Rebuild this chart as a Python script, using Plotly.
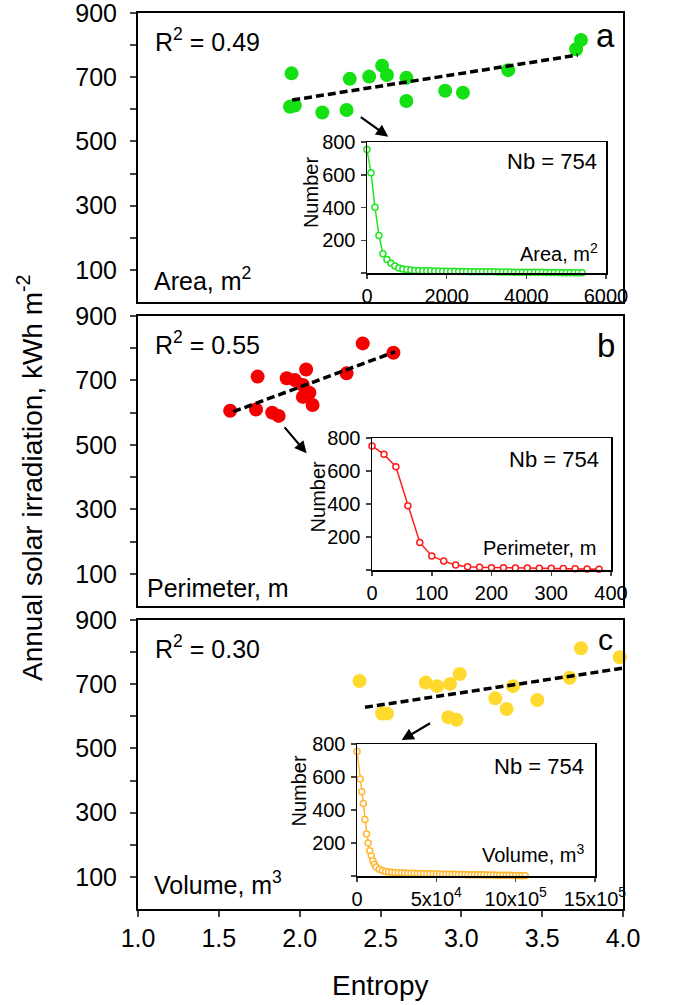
import plotly.graph_objects as go

# ---------------- main scatter data (Entropy vs annual solar irradiation) ----------------
area_entropy = [1.95, 1.94, 1.97, 2.14, 2.29, 2.31, 2.43, 2.51, 2.54, 2.66, 2.66, 2.90, 3.01, 3.29, 3.71, 3.74]
area_irr     = [712, 608, 612, 590, 598, 695, 702, 736, 707, 698, 626, 658, 652, 722, 787, 816]
area_trend_x = [1.954, 3.72]
area_trend_y = [629, 769]

perim_entropy = [1.57, 1.74, 1.73, 1.83, 1.87, 1.92, 1.97, 2.04, 2.02, 2.06, 2.02, 2.08, 2.29, 2.39, 2.58]
perim_irr     = [606, 712, 610, 600, 590, 707, 701, 734, 686, 662, 649, 624, 722, 815, 786]
perim_trend_x = [1.589, 2.59]
perim_trend_y = [603, 789]

vol_entropy = [2.37, 2.51, 2.54, 2.78, 2.85, 2.93, 2.99, 2.92, 2.97, 3.21, 3.32, 3.28, 3.47, 3.67, 3.74, 3.98]
vol_irr     = [710, 609, 609, 705, 694, 701, 732, 597, 589, 656, 694, 623, 651, 720, 812, 784]
vol_trend_x = [2.404, 4.0]
vol_trend_y = [628, 750]

# ---------------- inset data (cumulative number of buildings) ----------------
inset_area_x = [0, 100, 200, 300, 400, 500, 600, 700, 800, 900, 1000, 1100, 1200, 1300, 1400,
                1500, 1600, 1700, 1800, 1900, 2000, 2100, 2200, 2300, 2400, 2500, 2600, 2700,
                2800, 2900, 3000, 3100, 3200, 3300, 3400, 3500, 3600, 3700, 3800, 3900, 4000,
                4100, 4200, 4300, 4400, 4500, 4600, 4700, 4800, 4900, 5000, 5100, 5200, 5300, 5400]
inset_area_n = [754, 612, 402, 229, 118, 82, 60, 42, 31, 25, 21, 18, 16, 15, 14,
                14, 13, 12, 12, 11, 11, 10, 10, 9, 9, 9, 8, 8,
                8, 7, 7, 7, 7, 6, 6, 6, 6, 5, 5, 5, 5,
                4, 4, 4, 4, 3, 3, 3, 3, 2, 2, 2, 2, 1, 1]

inset_perim_x = [0, 20, 40, 60, 80, 100, 120, 140, 160, 180, 200, 220, 240, 260, 280, 300, 320, 340, 360, 380]
inset_perim_n = [752, 701, 625, 389, 167, 85, 54, 30, 20, 16, 14, 13, 12, 12, 11, 10, 9, 8, 6, 4]

inset_vol_x = [0, 0.2, 0.3, 0.4, 0.5, 0.6, 0.7, 0.8, 0.9, 1.0, 1.1, 1.2, 1.4, 1.6, 1.8,
               2.0, 2.2, 2.4, 2.6, 2.8, 3.0, 3.2, 3.4, 3.6, 3.8, 4.0, 4.2, 4.4, 4.6, 4.8,
               5.0, 5.2, 5.4, 5.6, 5.8, 6.0, 6.2, 6.4, 6.6, 6.8, 7.0, 7.2, 7.4, 7.6, 7.8,
               8.0, 8.2, 8.4, 8.6, 8.8, 9.0, 9.2, 9.4, 9.6, 9.8, 10.0, 10.2, 10.4, 10.6]
inset_vol_n = [754, 588, 510, 439, 343, 255, 200, 153, 122, 92, 71, 55, 41, 33, 27,
               24, 22, 21, 20, 19, 18, 17, 16, 16, 15, 15, 14, 14, 13, 13,
               12, 12, 11, 11, 10, 10, 10, 9, 9, 9, 8, 8, 8, 7, 7,
               7, 6, 6, 6, 5, 5, 4, 4, 4, 3, 3, 2, 2, 1]

r2_labels = ["R<sup>2</sup> = 0.49", "R<sup>2</sup> = 0.55", "R<sup>2</sup> = 0.30"]
panel_letters = ["a", "b", "c"]
var_labels = ["Area, m<sup>2</sup>", "Perimeter, m", "Volume, m<sup>3</sup>"]
main_yticks = [100, 200, 300, 400, 500, 600, 700, 800, 900]
main_yticktext = ["100", "", "300", "", "500", "", "700", "", "900"]
entropy_ticks = [1.0, 1.5, 2.0, 2.5, 3.0, 3.5, 4.0]
entropy_ticktext = ["1.0", "1.5", "2.0", "2.5", "3.0", "3.5", "4.0"]
inset_yticks = [0, 200, 400, 600, 800]
inset_yticktext = ["", "200", "400", "600", "800"]
area_xticks = [0, 2000, 4000, 6000]
perim_xticks = [0, 100, 200, 300, 400]
vol_xticks = [0, 5, 10, 15]
vol_xticktext = ["0", "5x10<sup>4</sup>", "10x10<sup>5</sup>", "15x10<sup>5</sup>"]

GREEN = "#14E014"
RED = "#F40000"
YELLOW = "#FFD92E"
ORANGE = "#FFB732"
FONT = "Liberation Sans, Arial, sans-serif"

W, H = 674, 1005
def px(x):
    return x / W
def py(y):
    return 1 - y / H

main_x_dom = [px(138), px(623)]
main_y_doms = [[py(302), py(13)], [py(606), py(316)], [py(909), py(620)]]
inset_x_doms = [[px(367), px(606)], [px(372), px(611)], [px(357), px(595)]]
inset_y_doms = [[py(273), py(142)], [py(570), py(438)], [py(876), py(744)]]

fig = go.Figure()

main_sets = [
    (area_entropy, area_irr, area_trend_x, area_trend_y, GREEN),
    (perim_entropy, perim_irr, perim_trend_x, perim_trend_y, RED),
    (vol_entropy, vol_irr, vol_trend_x, vol_trend_y, YELLOW),
]
for i, (ex, ey, tx, ty, col) in enumerate(main_sets):
    xa = "x" if i == 0 else f"x{i+1}"
    ya = "y" if i == 0 else f"y{i+1}"
    fig.add_trace(go.Scatter(x=ex, y=ey, mode="markers", xaxis=xa, yaxis=ya,
                             marker=dict(size=14, color=col, line=dict(width=0)),
                             cliponaxis=False, showlegend=False))
    fig.add_trace(go.Scatter(x=tx, y=ty, mode="lines", xaxis=xa, yaxis=ya,
                             line=dict(color="black", width=3.5, dash="8px,4px"),
                             showlegend=False))

inset_sets = [
    (inset_area_x, inset_area_n, "#22E622"),
    (inset_perim_x, inset_perim_n, "#FF1A1A"),
    (inset_vol_x, inset_vol_n, ORANGE),
]
for j, (ix, iy, col) in enumerate(inset_sets):
    fig.add_trace(go.Scatter(x=ix, y=iy, mode="lines+markers",
                             xaxis=f"x{j+4}", yaxis=f"y{j+4}",
                             line=dict(color=col, width=1.5),
                             marker=dict(symbol="circle", size=6, color="white",
                                         line=dict(color=col, width=1.5)),
                             cliponaxis=False, showlegend=False))

layout = dict(template="none", width=W, height=H, autosize=False,
              margin=dict(l=0, r=0, t=0, b=0, pad=0),
              paper_bgcolor="white", plot_bgcolor="white",
              font=dict(family=FONT, color="black"), showlegend=False)

for i in range(3):
    xk = "xaxis" if i == 0 else f"xaxis{i+1}"
    yk = "yaxis" if i == 0 else f"yaxis{i+1}"
    ya = "y" if i == 0 else f"y{i+1}"
    xa = "x" if i == 0 else f"x{i+1}"
    last = (i == 2)
    layout[xk] = dict(domain=main_x_dom, anchor=ya, range=[1.0, 4.0], automargin=False,
                      showline=True, mirror=True, linewidth=2, linecolor="black",
                      showgrid=False, zeroline=False, ticklabeloverflow="allow",
                      ticks="outside" if last else "", ticklen=6, tickwidth=2,
                      tickvals=entropy_ticks, ticktext=entropy_ticktext,
                      showticklabels=last, tickfont=dict(size=25, family=FONT))
    layout[yk] = dict(domain=main_y_doms[i], anchor=xa, range=[0, 900], automargin=False,
                      showline=True, mirror=True, linewidth=2, linecolor="black",
                      showgrid=False, zeroline=False, ticklabeloverflow="allow",
                      ticks="outside", ticklen=6, tickwidth=2,
                      tickvals=main_yticks, ticktext=main_yticktext,
                      tickfont=dict(size=25, family=FONT), ticklabelstandoff=8)

inset_xranges = [[0, 6000], [0, 400], [0, 15]]
inset_xtv = [area_xticks, perim_xticks, vol_xticks]
inset_xtt = [[str(v) for v in area_xticks], [str(v) for v in perim_xticks], vol_xticktext]
for j in range(3):
    n = j + 4
    layout[f"xaxis{n}"] = dict(domain=inset_x_doms[j], anchor=f"y{n}", range=inset_xranges[j],
                               automargin=False, ticklabeloverflow="allow",
                               showline=True, mirror=True, linewidth=1.5, linecolor="black",
                               showgrid=False, zeroline=False,
                               ticks="outside", ticklen=4, tickwidth=1.5,
                               tickvals=inset_xtv[j], ticktext=inset_xtt[j],
                               tickfont=dict(size=20, family=FONT), ticklabelstandoff=0)
    layout[f"yaxis{n}"] = dict(domain=inset_y_doms[j], anchor=f"x{n}", range=[0, 800],
                               automargin=False, ticklabeloverflow="allow",
                               showline=True, mirror=True, linewidth=1.5, linecolor="black",
                               showgrid=False, zeroline=False,
                               ticks="outside", ticklen=5, tickwidth=1.5,
                               tickvals=inset_yticks, ticktext=inset_yticktext,
                               tickfont=dict(size=20, family=FONT), ticklabelstandoff=1)

fig.update_layout(**layout)

ann = []
r2_y = [816, 816, 816]
letter_pos = [(3.96, 831), (3.96, 810), (3.95, 838)]
var_pos = [(1.085, 72), (1.043, 56), (1.085, 81)]
for i in range(3):
    xa = "x" if i == 0 else f"x{i+1}"
    ya = "y" if i == 0 else f"y{i+1}"
    ann.append(dict(x=1.093, y=r2_y[i], xref=xa, yref=ya, text=r2_labels[i], showarrow=False,
                    xanchor="left", yanchor="middle", font=dict(size=25, family=FONT)))
    ann.append(dict(x=letter_pos[i][0], y=letter_pos[i][1], xref=xa, yref=ya, text=panel_letters[i],
                    showarrow=False, xanchor="right", yanchor="middle",
                    font=dict(size=33 if i < 2 else 30, family=FONT)))
    ann.append(dict(x=var_pos[i][0], y=var_pos[i][1], xref=xa, yref=ya, text=var_labels[i],
                    showarrow=False, xanchor="left", yanchor="middle", font=dict(size=25, family=FONT)))

arrows = [((2.369, 579), (2.548, 515)), ((1.899, 559), (2.043, 474)), ((2.816, 581), (2.631, 526))]
for i, ((tx, ty), (hx, hy)) in enumerate(arrows):
    xa = "x" if i == 0 else f"x{i+1}"
    ya = "y" if i == 0 else f"y{i+1}"
    ann.append(dict(x=hx, y=hy, ax=tx, ay=ty, xref=xa, yref=ya, axref=xa, ayref=ya,
                    showarrow=True, arrowhead=2, arrowsize=1.1, arrowwidth=2.2,
                    arrowcolor="black", text=""))

nb_pos = [(5816, 678), (384, 669), (14.41, 663)]
inset_lab_pos = [(5860, 128), (379, 131), (14.41, 137)]
number_y = [0.61, 0.55, 0.64]
number_shift = [-56, -54, -58]
for j in range(3):
    n = j + 4
    ann.append(dict(x=nb_pos[j][0], y=nb_pos[j][1], xref=f"x{n}", yref=f"y{n}", text="Nb = 754",
                    showarrow=False, xanchor="right", yanchor="middle", font=dict(size=22, family=FONT)))
    ann.append(dict(x=inset_lab_pos[j][0], y=inset_lab_pos[j][1], xref=f"x{n}", yref=f"y{n}",
                    text=var_labels[j], showarrow=False, xanchor="right", yanchor="middle",
                    font=dict(size=20, family=FONT)))
    ann.append(dict(x=0, y=number_y[j], xref=f"x{n} domain", yref=f"y{n} domain", text="Number",
                    textangle=-90, showarrow=False, xanchor="center", yanchor="middle",
                    xshift=number_shift[j], font=dict(size=20, family=FONT)))

ann.append(dict(x=px(30), y=py(478), xref="paper", yref="paper",
                text="Annual solar irradiation, kWh m<sup>-2</sup>", textangle=-90,
                showarrow=False, xanchor="center", yanchor="middle", font=dict(size=28, family=FONT)))
ann.append(dict(x=px(380), y=py(985), xref="paper", yref="paper", text="Entropy",
                showarrow=False, xanchor="center", yanchor="middle", font=dict(size=28, family=FONT)))

fig.update_layout(annotations=ann)
fig.write_html("out.html", config={"displayModeBar": False, "staticPlot": True},
               post_script="document.body.style.margin='0';document.body.style.overflow='hidden';")
